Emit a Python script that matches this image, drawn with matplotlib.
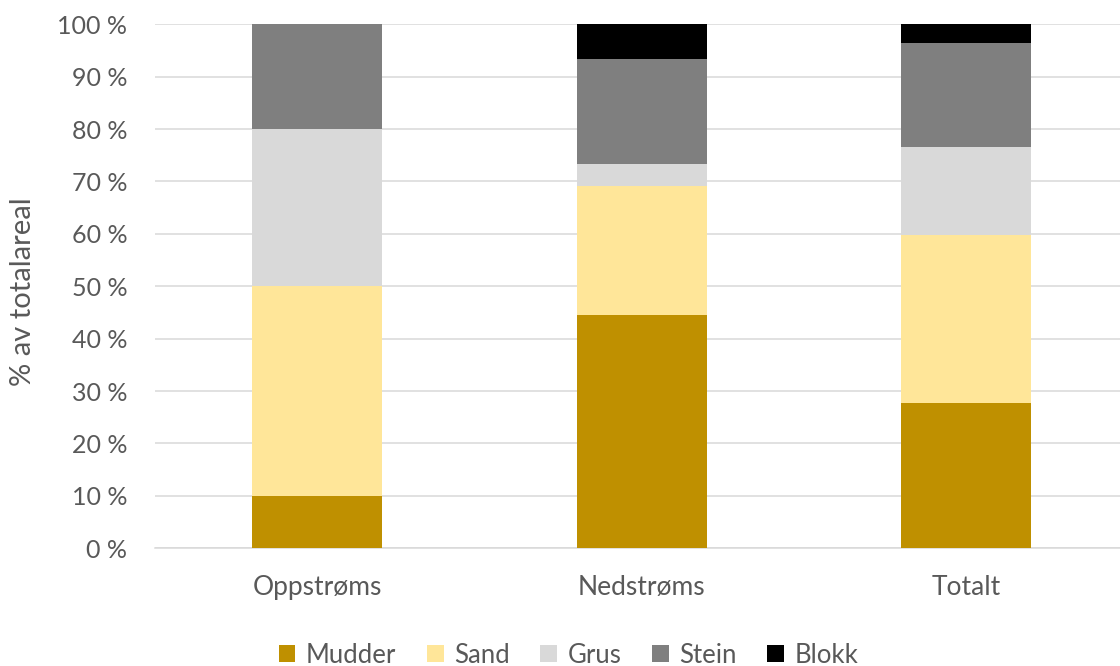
import matplotlib
matplotlib.use("Agg")
import matplotlib.pyplot as plt
import numpy as np
from matplotlib.ticker import FuncFormatter

# Data (percent of total area)
categories = ["Oppstrøms", "Nedstrøms", "Totalt"]
mudder = [10.0, 44.6, 27.7]
sand = [40.0, 24.5, 32.1]
grus = [30.0, 4.2, 16.7]
stein = [20.0, 20.0, 20.0]
blokk = [0.0, 6.7, 3.5]

series = [
    ("Mudder", mudder, "#BF9000"),
    ("Sand", sand, "#FFE699"),
    ("Grus", grus, "#D9D9D9"),
    ("Stein", stein, "#7F7F7F"),
    ("Blokk", blokk, "#000000"),
]

plt.rcParams['font.family'] = ['Lato', 'DejaVu Sans']
TXT = "#595959"

fig = plt.figure(figsize=(11.2, 6.66), dpi=100)
ax = fig.add_axes([155 / 1120, (666 - 548.3) / 666, 973.5 / 1120, 524 / 666])

x = np.arange(len(categories))
bottom = np.zeros(len(categories))
for name, vals, col in series:
    ax.bar(x, vals, width=0.4, bottom=bottom, color=col, label=name, zorder=3)
    bottom += np.array(vals)

ax.set_xlim(-0.5, 2.5)
ax.set_ylim(0, 100)
ax.set_yticks(np.arange(0, 101, 10))
ax.yaxis.set_major_formatter(FuncFormatter(lambda v, p: f"{int(v)} %"))
ax.set_xticks(x)
ax.set_xticklabels(categories)

ax.grid(axis="y", color="#D9D9D9", linewidth=1.1, zorder=0)
for s in ["top", "right", "left"]:
    ax.spines[s].set_visible(False)
ax.spines["bottom"].set_color("#D9D9D9")
ax.spines["bottom"].set_linewidth(1.1)

ax.tick_params(axis="y", length=0, pad=20, labelsize=18, labelcolor=TXT)
ax.tick_params(axis="x", length=0, pad=19, labelsize=19, labelcolor=TXT)

ax.set_ylabel("% av totalareal", fontsize=21, color=TXT)
ax.yaxis.set_label_coords(-0.122, 0.49)

fig.legend(loc="center", bbox_to_anchor=(0.5076, 0.0165), ncol=5, frameon=False,
           fontsize=18.5, labelcolor=TXT, handlelength=0.65, handleheight=0.65,
           handletextpad=0.4, columnspacing=1.2, borderpad=0.1)

fig.savefig("out.png", dpi=100)
